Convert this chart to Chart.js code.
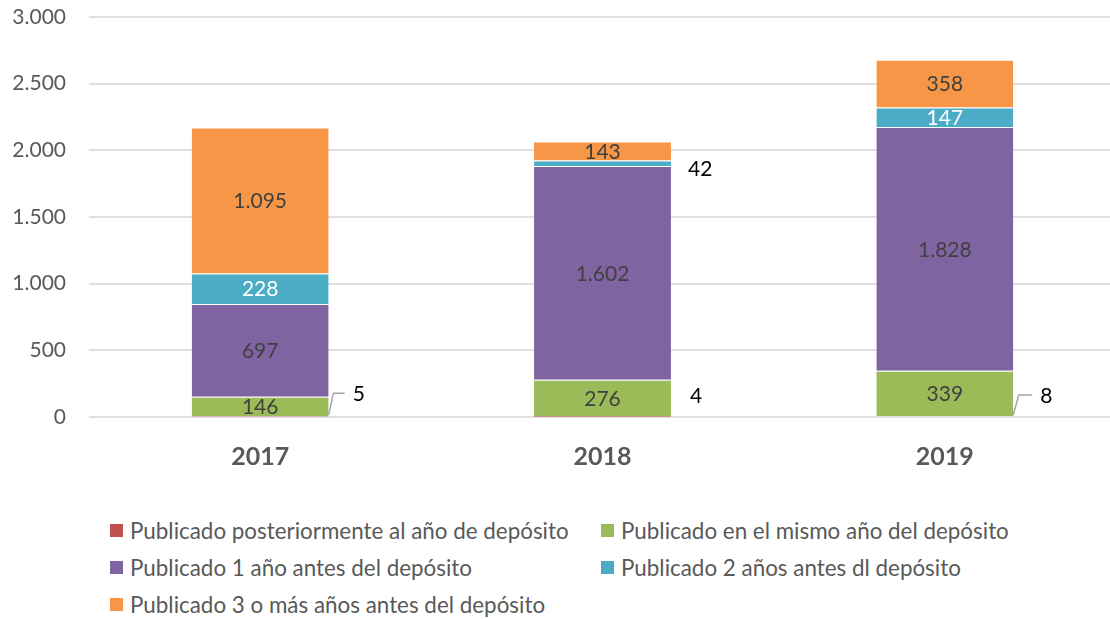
<!DOCTYPE html>
<html><head><meta charset="utf-8">
<script src="https://cdn.jsdelivr.net/npm/chart.js@4.4.1/dist/chart.umd.min.js"></script>
<style>
html,body{margin:0;padding:0;background:#fff;width:1110px;height:619px;overflow:hidden;position:relative;}
#wrap{position:absolute;left:0;top:0;width:1116px;height:500px;}
.item{position:absolute;display:flex;align-items:center;height:30px;font-family:Lato,sans-serif;font-size:22.4px;color:#595959;white-space:nowrap;}
.sw{width:13px;height:13px;margin-right:7px;flex:none;}
</style></head>
<body>
<div id="wrap"><canvas id="c" width="1116" height="500"></canvas></div>
<div id="legend"></div>
<script>
// ---- data ----
const categories = ['2017', '2018', '2019'];
const seriesNames = [
  'Publicado posteriormente al año de depósito',
  'Publicado en el mismo año del depósito',
  'Publicado 1 año antes del depósito',
  'Publicado 2 años antes dl depósito',
  'Publicado 3 o más años antes del depósito'
];
const posterior = [5, 4, 8];
const mismoAnio = [146, 276, 339];
const unAnio = [697, 1602, 1828];
const dosAnios = [228, 42, 147];
const tresAnios = [1095, 143, 358];
const yTicks = [0, 500, 1000, 1500, 2000, 2500, 3000];

// ---- styles ----
const colors = ['#C0504D', '#9BBB59', '#8064A2', '#4BACC6', '#F79646'];
const labelColors = ['#000000', '#404040', '#404040', '#FFFFFF', '#404040'];
// outside labels: [seriesIndex, categoryIndex, dx, dy, leader]
const outsideLabels = [
  [0, 0, 24, -22, true],
  [0, 1, 19, -20, false],
  [0, 2, 27, -20, true],
  [3, 1, 17, 6, false]
];
const FONT = 'Lato, sans-serif';

const fmt = v => String(v).replace(/\B(?=(\d{3})+(?!\d))/g, '.');
const seriesData = [posterior, mismoAnio, unAnio, dosAnios, tresAnios];

const datasets = seriesData.map((d, i) => ({
  label: seriesNames[i],
  data: d,
  backgroundColor: colors[i],
  borderColor: 'rgba(255,255,255,0.85)',
  borderWidth: i === 0 ? 0 : {top: 1, bottom: 0, left: 0, right: 0},
  borderSkipped: false,
  categoryPercentage: 1.0,
  barPercentage: 0.4
}));

const labelPlugin = {
  id: 'valueLabels',
  afterDatasetsDraw(chart) {
    const ctx = chart.ctx;
    ctx.save();
    ctx.font = '21px ' + FONT;
    ctx.textBaseline = 'middle';
    chart.data.datasets.forEach((ds, di) => {
      const meta = chart.getDatasetMeta(di);
      meta.data.forEach((bar, ci) => {
        const text = fmt(ds.data[ci]);
        const top = bar.y, base = bar.base;
        const cy = (top + base) / 2;
        const right = bar.x + bar.width / 2;
        const out = outsideLabels.find(o => o[0] === di && o[1] === ci);
        if (out) {
          const ly = cy + out[3];
          ctx.fillStyle = '#000000';
          ctx.textAlign = 'left';
          ctx.fillText(text, right + out[2], ly);
          if (out[4]) {
            ctx.strokeStyle = '#A6A6A6';
            ctx.lineWidth = 1.5;
            ctx.beginPath();
            ctx.moveTo(right, base - 1);
            ctx.lineTo(right + out[2] * 0.2, ly - 1);
            ctx.lineTo(right + out[2] - 8, ly - 1);
            ctx.stroke();
          }
        } else {
          ctx.fillStyle = labelColors[di];
          ctx.textAlign = 'center';
          ctx.fillText(text, bar.x, cy + 1);
        }
      });
    });
    ctx.restore();
  }
};

new Chart(document.getElementById('c'), {
  type: 'bar',
  data: {labels: categories, datasets},
  plugins: [labelPlugin],
  options: {
    responsive: false,
    animation: false,
    layout: {padding: {top: 17, left: 0, right: 0, bottom: 0}},
    plugins: {legend: {display: false}, tooltip: {enabled: false}},
    scales: {
      x: {
        stacked: true,
        grid: {display: false, drawTicks: false},
        border: {display: false},
        ticks: {color: '#595959', font: {family: FONT, size: 25, weight: 'bold'}, padding: 25},
        afterFit(s) { s.height = 83; }
      },
      y: {
        stacked: true,
        min: yTicks[0],
        max: yTicks[yTicks.length - 1],
        afterBuildTicks(s) { s.ticks = yTicks.map(v => ({value: v})); },
        grid: {color: '#E0E0E0', lineWidth: 2, drawTicks: false},
        border: {display: false},
        ticks: {color: '#595959', font: {family: FONT, size: 21}, padding: 23, callback: v => fmt(v)},
        afterFit(s) { s.width = 89; s.paddingTop = 0; s.paddingBottom = 0; }
      }
    }
  }
});

// legend (HTML, built from the series arrays)
const legendPos = [[110, 515], [601, 515], [110, 552], [601, 552], [110, 589]];
const lg = document.getElementById('legend');
seriesNames.forEach((n, i) => {
  const it = document.createElement('div');
  it.className = 'item';
  it.style.left = legendPos[i][0] + 'px';
  it.style.top = legendPos[i][1] + 'px';
  const sw = document.createElement('span');
  sw.className = 'sw';
  sw.style.background = colors[i];
  const tx = document.createElement('span');
  tx.textContent = n;
  it.appendChild(sw); it.appendChild(tx);
  lg.appendChild(it);
});
</script>
</body></html>
